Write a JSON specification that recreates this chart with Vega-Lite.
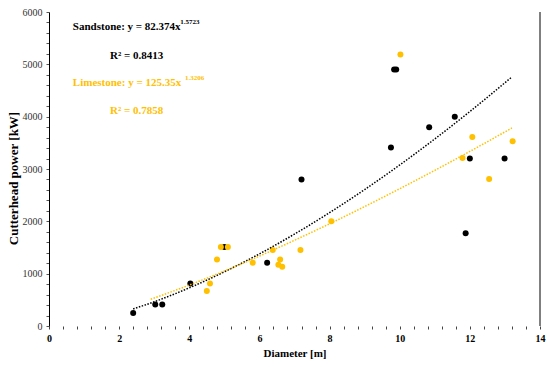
{
  "$schema": "https://vega.github.io/schema/vega-lite/v6.json",
  "width": 491,
  "height": 314,
  "autosize": "none",
  "padding": {"left": 49, "top": 12, "right": 10, "bottom": 41},
  "config": {
    "view": {"stroke": null},
    "font": "Liberation Serif",
    "axis": {"grid": false, "labelOverlap": false, "labelBound": false, "labelFlush": false, "tickCount": 100}
  },
  "datasets": {
    "points": [
      {"rock": "Sandstone", "diameter": 2.4, "power": 250},
      {"rock": "Sandstone", "diameter": 3.03, "power": 410},
      {"rock": "Sandstone", "diameter": 3.23, "power": 410},
      {"rock": "Sandstone", "diameter": 4.03, "power": 810},
      {"rock": "Sandstone", "diameter": 5.0, "power": 1510},
      {"rock": "Sandstone", "diameter": 6.22, "power": 1210},
      {"rock": "Sandstone", "diameter": 7.2, "power": 2800},
      {"rock": "Sandstone", "diameter": 9.75, "power": 3410},
      {"rock": "Sandstone", "diameter": 9.84, "power": 4900},
      {"rock": "Sandstone", "diameter": 9.9, "power": 4900},
      {"rock": "Sandstone", "diameter": 10.84, "power": 3800},
      {"rock": "Sandstone", "diameter": 11.57, "power": 4000},
      {"rock": "Sandstone", "diameter": 11.88, "power": 1770},
      {"rock": "Sandstone", "diameter": 12.0, "power": 3200},
      {"rock": "Sandstone", "diameter": 12.99, "power": 3200},
      {"rock": "Limestone", "diameter": 4.5, "power": 670},
      {"rock": "Limestone", "diameter": 4.59, "power": 810},
      {"rock": "Limestone", "diameter": 4.79, "power": 1270},
      {"rock": "Limestone", "diameter": 4.9, "power": 1510},
      {"rock": "Limestone", "diameter": 5.1, "power": 1510},
      {"rock": "Limestone", "diameter": 5.81, "power": 1210},
      {"rock": "Limestone", "diameter": 6.38, "power": 1450},
      {"rock": "Limestone", "diameter": 6.54, "power": 1170},
      {"rock": "Limestone", "diameter": 6.59, "power": 1270},
      {"rock": "Limestone", "diameter": 6.65, "power": 1130},
      {"rock": "Limestone", "diameter": 7.17, "power": 1450},
      {"rock": "Limestone", "diameter": 8.05, "power": 2000},
      {"rock": "Limestone", "diameter": 10.02, "power": 5190},
      {"rock": "Limestone", "diameter": 11.79, "power": 3210},
      {"rock": "Limestone", "diameter": 12.07, "power": 3610},
      {"rock": "Limestone", "diameter": 12.55, "power": 2810},
      {"rock": "Limestone", "diameter": 13.22, "power": 3530}
    ],
    "trend": [
      {"rock": "Sandstone", "diameter": 2.4, "power": 326},
      {"rock": "Sandstone", "diameter": 3, "power": 463},
      {"rock": "Sandstone", "diameter": 4, "power": 729},
      {"rock": "Sandstone", "diameter": 5, "power": 1035},
      {"rock": "Sandstone", "diameter": 6, "power": 1378},
      {"rock": "Sandstone", "diameter": 7, "power": 1756},
      {"rock": "Sandstone", "diameter": 8, "power": 2166},
      {"rock": "Sandstone", "diameter": 9, "power": 2607},
      {"rock": "Sandstone", "diameter": 10, "power": 3077},
      {"rock": "Sandstone", "diameter": 11, "power": 3574},
      {"rock": "Sandstone", "diameter": 12, "power": 4098},
      {"rock": "Sandstone", "diameter": 13.2, "power": 4760},
      {"rock": "Limestone", "diameter": 2.9, "power": 511},
      {"rock": "Limestone", "diameter": 3, "power": 535},
      {"rock": "Limestone", "diameter": 4, "power": 782},
      {"rock": "Limestone", "diameter": 5, "power": 1050},
      {"rock": "Limestone", "diameter": 6, "power": 1336},
      {"rock": "Limestone", "diameter": 7, "power": 1638},
      {"rock": "Limestone", "diameter": 8, "power": 1953},
      {"rock": "Limestone", "diameter": 9, "power": 2282},
      {"rock": "Limestone", "diameter": 10, "power": 2623},
      {"rock": "Limestone", "diameter": 11, "power": 2974},
      {"rock": "Limestone", "diameter": 12, "power": 3336},
      {"rock": "Limestone", "diameter": 13.2, "power": 3784}
    ]
  },
  "layer": [
    {
      "data": {"name": "points"},
      "mark": {"type": "circle", "size": 36, "opacity": 1},
      "encoding": {
        "x": {
          "field": "diameter", "type": "quantitative",
          "scale": {"domain": [0, 14], "nice": false},
          "axis": {
            "title": "Diameter [m]",
            "titleFont": "Liberation Serif", "titleFontSize": 11, "titleFontWeight": "bold", "titleColor": "#000",
            "titlePadding": 4,
            "values": [0,0.4,0.8,1.2,1.6,2,2.4,2.8,3.2,3.6,4,4.4,4.8,5.2,5.6,6,6.4,6.8,7.2,7.6,8,8.4,8.8,9.2,9.6,10,10.4,10.8,11.2,11.6,12,12.4,12.8,13.2,13.6,14],
            "tickCount": 100,
            "labelExpr": "abs(datum.value - round(datum.value/2)*2) < 0.001 ? format(datum.value, 'd') : ''",
            "labelFont": "Liberation Serif", "labelFontSize": 10, "labelFontWeight": "bold", "labelColor": "#000",
            "labelPadding": 4,
            "domain": false,
            "tickSize": 3, "tickColor": "#444", "tickWidth": 1
          }
        },
        "y": {
          "field": "power", "type": "quantitative",
          "scale": {"domain": [0, 6000], "nice": false},
          "axis": {
            "title": "Cutterhead power [kW]",
            "titleFont": "Liberation Serif", "titleFontSize": 13, "titleFontWeight": "bold", "titleColor": "#000",
            "titlePadding": 2,
            "titleY": 166,
            "values": [0,200,400,600,800,1000,1200,1400,1600,1800,2000,2200,2400,2600,2800,3000,3200,3400,3600,3800,4000,4200,4400,4600,4800,5000,5200,5400,5600,5800,6000],
            "tickCount": 100,
            "labelExpr": "datum.value % 1000 === 0 ? format(datum.value, 'd') : ''",
            "labelFont": "Liberation Serif", "labelFontSize": 10, "labelColor": "#333",
            "labelPadding": 4,
            "domainColor": "#000", "domainWidth": 1,
            "tickSize": 3, "tickColor": "#555", "tickWidth": 1
          }
        },
        "color": {
          "field": "rock", "type": "nominal",
          "scale": {"domain": ["Sandstone", "Limestone"], "range": ["#000000", "#FFC000"]},
          "legend": null
        }
      }
    },
    {
      "data": {"name": "trend"},
      "mark": {"type": "line", "strokeDash": [1.5, 1.5], "strokeWidth": 1.5, "interpolate": "monotone"},
      "encoding": {
        "x": {"field": "diameter", "type": "quantitative"},
        "y": {"field": "power", "type": "quantitative"},
        "color": {"field": "rock", "type": "nominal", "legend": null}
      }
    },
    {
      "data": {"values": [{}]},
      "mark": {"type": "rule", "color": "#000", "strokeWidth": 1},
      "encoding": {"x": {"datum": 14}}
    },
    {
      "data": {"values": [{}]},
      "mark": {"type": "text", "text": "Sandstone: y = 82.374x", "align": "left", "baseline": "middle", "font": "Liberation Serif", "fontSize": 11, "fontWeight": "bold", "color": "#000"},
      "encoding": {"x": {"datum": 0.68}, "y": {"datum": 5714}}
    },
    {
      "data": {"values": [{}]},
      "mark": {"type": "text", "text": "1.5723", "align": "left", "baseline": "middle", "font": "Liberation Serif", "fontSize": 7, "fontWeight": "bold", "color": "#000"},
      "encoding": {"x": {"datum": 3.74}, "y": {"datum": 5810}}
    },
    {
      "data": {"values": [{}]},
      "mark": {"type": "text", "text": "R² = 0.8413", "align": "left", "baseline": "middle", "font": "Liberation Serif", "fontSize": 11, "fontWeight": "bold", "color": "#000"},
      "encoding": {"x": {"datum": 1.74}, "y": {"datum": 5160}}
    },
    {
      "data": {"values": [{}]},
      "mark": {"type": "text", "text": "Limestone: y = 125.35x", "align": "left", "baseline": "middle", "font": "Liberation Serif", "fontSize": 11, "fontWeight": "bold", "color": "#FFC000"},
      "encoding": {"x": {"datum": 0.68}, "y": {"datum": 4644}}
    },
    {
      "data": {"values": [{}]},
      "mark": {"type": "text", "text": "1.3206", "align": "left", "baseline": "middle", "font": "Liberation Serif", "fontSize": 7, "fontWeight": "bold", "color": "#FFC000"},
      "encoding": {"x": {"datum": 3.88}, "y": {"datum": 4740}}
    },
    {
      "data": {"values": [{}]},
      "mark": {"type": "text", "text": "R² = 0.7858", "align": "left", "baseline": "middle", "font": "Liberation Serif", "fontSize": 11, "fontWeight": "bold", "color": "#FFC000"},
      "encoding": {"x": {"datum": 1.74}, "y": {"datum": 4109}}
    }
  ]
}
